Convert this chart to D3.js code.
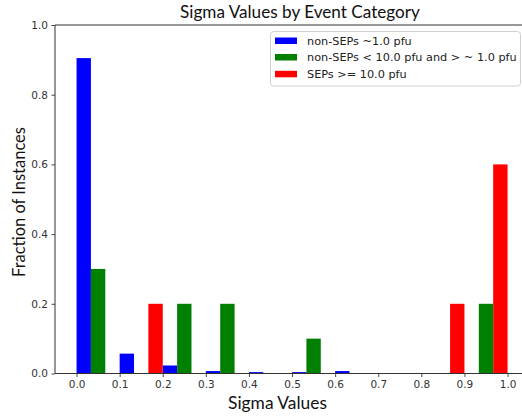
<!DOCTYPE html>
<html>
<head>
<meta charset="utf-8">
<script src="https://cdn.jsdelivr.net/npm/d3@7"></script>
<style>
  html, body { margin: 0; padding: 0; background: #fff; }
  svg { display: block; }
</style>
</head>
<body>
<svg id="chart" width="522" height="416"></svg>
<script>
// Histogram bins (left edges, width 0.1) and fraction of instances per category
const binStarts = [0.0, 0.1, 0.2, 0.3, 0.4, 0.5, 0.6, 0.7, 0.8, 0.9];
const binWidth = 0.1;
const categories = [
  "non-SEPs ~1.0 pfu",
  "non-SEPs < 10.0 pfu and > ~ 1.0 pfu",
  "SEPs >= 10.0 pfu"
];
const colors = ["#0000ff", "#008000", "#ff0000"];
const nonSepLow = [0.905, 0.057, 0.023, 0.007, 0.004, 0.004, 0.007, 0, 0, 0];
const nonSepMid = [0.3, 0, 0.2, 0.2, 0, 0.1, 0, 0, 0, 0.2];
const sepHigh   = [0, 0.2, 0, 0, 0, 0, 0, 0, 0.2, 0.6];
const xTicks = [0.0, 0.1, 0.2, 0.3, 0.4, 0.5, 0.6, 0.7, 0.8, 0.9, 1.0];
const yTicks = [0.0, 0.2, 0.4, 0.6, 0.8, 1.0];

const series = [nonSepLow, nonSepMid, sepHigh];

const svg = d3.select("#chart");
const labelFont = "Lato, 'Open Sans', sans-serif";
const tickFont = "'DejaVu Sans', sans-serif";

const x = d3.scaleLinear().domain([-0.05, 1.05]).range([55, 529.1]);
const y = d3.scaleLinear().domain([0, 1]).range([373.5, 25]);

// Bars: each bin split into three side-by-side bars
const sub = d3.scaleBand().domain(d3.range(series.length)).range([0, binWidth]).padding(0);
const bars = [];
series.forEach((vals, si) => {
  vals.forEach((v, bi) => {
    bars.push({ si, x0: binStarts[bi] + sub(si), x1: binStarts[bi] + sub(si) + sub.bandwidth(), v });
  });
});
svg.append("g").selectAll("rect")
  .data(bars.filter(d => d.v > 0))
  .join("rect")
  .attr("x", d => x(d.x0))
  .attr("width", d => x(d.x1) - x(d.x0))
  .attr("y", d => y(d.v))
  .attr("height", d => y(0) - y(d.v))
  .attr("fill", d => colors[d.si]);

// Axes
const xAxis = svg.append("g")
  .attr("transform", `translate(0,${y(0)})`)
  .call(d3.axisBottom(x).tickValues(xTicks).tickFormat(d3.format(".1f")).tickSize(3.5).tickPadding(3.5));
const yAxis = svg.append("g")
  .attr("transform", `translate(${x(-0.05)},0)`)
  .call(d3.axisLeft(y).tickValues(yTicks).tickFormat(d3.format(".1f")).tickSize(3.5).tickPadding(3.5));
[xAxis, yAxis].forEach(g => {
  g.select(".domain").remove();
  g.selectAll(".tick line").attr("stroke", "#333").attr("stroke-width", 0.9);
  g.selectAll(".tick text").attr("fill", "#333").style("font-family", tickFont).style("font-size", "10.5px");
});

// Spines: left, bottom, top (right edge lies outside the view)
const spines = svg.append("g").attr("stroke", "#333").attr("stroke-width", 1).attr("fill", "none");
spines.append("line").attr("x1", x(-0.05)).attr("x2", x(-0.05)).attr("y1", y(0)).attr("y2", y(1));
spines.append("line").attr("x1", x(-0.05)).attr("x2", x(1.05)).attr("y1", y(0)).attr("y2", y(0));
spines.append("line").attr("x1", x(-0.05)).attr("x2", x(1.05)).attr("y1", y(1)).attr("y2", y(1));

// Text helper: scale font so the label spans the given width
function fitText(sel, width, base) {
  sel.style("font-size", base + "px");
  const len = sel.node().getComputedTextLength();
  const size = base * width / len;
  sel.style("font-size", size.toFixed(2) + "px");
  return size;
}

fitText(svg.append("text")
  .attr("x", 300).attr("y", 17.5)
  .attr("text-anchor", "middle")
  .style("font-family", labelFont)
  .attr("fill", "#111")
  .text("Sigma Values by Event Category"), 240, 17);

fitText(svg.append("text")
  .attr("x", 277.5).attr("y", 408.5)
  .attr("text-anchor", "middle")
  .style("font-family", labelFont)
  .attr("fill", "#111")
  .text("Sigma Values"), 99, 17);

fitText(svg.append("text")
  .attr("transform", "translate(25,202) rotate(-90)")
  .attr("text-anchor", "middle")
  .style("font-family", labelFont)
  .attr("fill", "#111")
  .text("Fraction of Instances"), 150, 15);

// Legend
const legend = svg.append("g");
legend.append("rect")
  .attr("x", 270.5).attr("y", 31.5).attr("width", 250).attr("height", 54.5)
  .attr("rx", 3).attr("fill", "#fff").attr("fill-opacity", 0.8)
  .attr("stroke", "#d0d0d0").attr("stroke-width", 1);
const rowY = [40.5, 57, 73.8];
const labels = categories.map((c, i) => {
  legend.append("rect")
    .attr("x", 275).attr("y", rowY[i] - 3).attr("width", 22).attr("height", 6.5)
    .attr("fill", colors[i]);
  return legend.append("text")
    .attr("x", 307).attr("y", rowY[i] + 4)
    .style("font-family", tickFont)
    .attr("fill", "#222")
    .text(c);
});
// size legend text from its longest entry
const legendSize = fitText(labels[1], 210, 10.5);
labels.forEach(t => t.style("font-size", legendSize.toFixed(2) + "px"));
</script>
</body>
</html>
